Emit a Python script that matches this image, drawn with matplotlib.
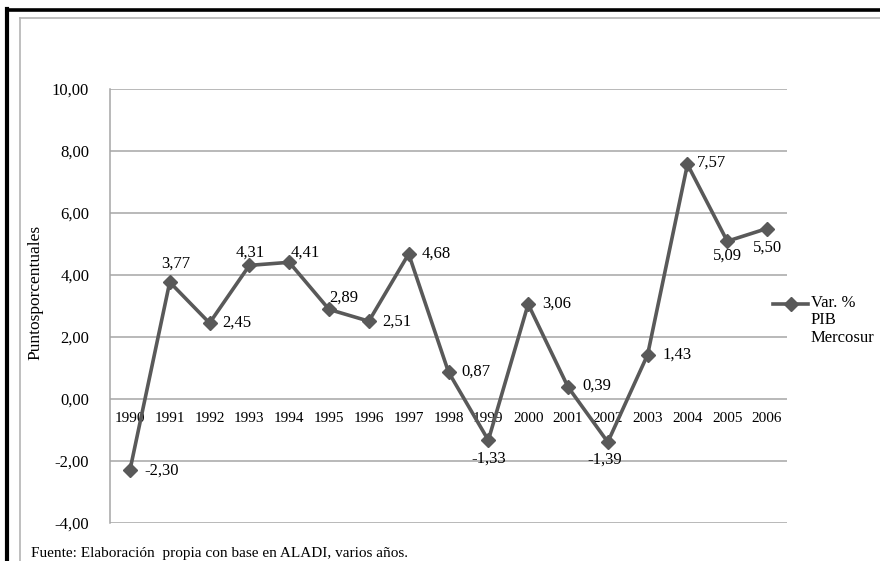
import matplotlib
matplotlib.use("Agg")
import matplotlib.pyplot as plt
from matplotlib.lines import Line2D

# data
years = ["1990", "1991", "1992", "1993", "1994", "1995", "1996", "1997", "1998",
         "1999", "2000", "2001", "2002", "2003", "2004", "2005", "2006"]
var_pib = [-2.30, 3.77, 2.45, 4.31, 4.41, 2.89, 2.51, 4.68, 0.87,
           -1.33, 3.06, 0.39, -1.39, 1.43, 7.57, 5.09, 5.50]
y_ticks = [-4, -2, 0, 2, 4, 6, 8, 10]
series_name = "Var. %\nPIB\nMercosur"
y_title = "Puntosporcentuales"
source_note = "Fuente: Elaboración  propia con base en ALADI, varios años."

# label placement (pixel offsets dx, dy, horizontal alignment)
label_pos = [(14, 0, "left"), (6, 18, "center"), (13, 0, "left"), (1, 13, "center"),
             (1, 10, "left"), (0, 12, "left"), (13, 0, "left"), (13, 0, "left"),
             (13, 0, "left"), (0, -18, "center"), (14, 0, "left"), (14, 1, "left"),
             (-3, -18, "center"), (15, 0, "left"), (9, 2, "left"), (0, -14, "center"),
             (0, -19, "center")]

plt.rcParams['font.family'] = ['Liberation Serif', 'DejaVu Serif']

W, H = 880, 561
fig = plt.figure(figsize=(8.8, 5.61), dpi=100)
fig.patch.set_facecolor("white")

# outer frames
def px_line(x0, y0, x1, y1, color, lw):
    fig.add_artist(Line2D([x0 / W, x1 / W], [1 - y0 / H, 1 - y1 / H],
                          color=color, lw=lw, transform=fig.transFigure))

px_line(6.5, 10, W, 10, "black", 2.6)
px_line(6.5, 9, 6.5, H, "black", 3.0)
px_line(19.5, 17.5, W, 17.5, "#b4b4b4", 1.2)
px_line(19.5, 17.5, 19.5, H, "#b4b4b4", 1.2)

left, right, top, bottom = 110, 787, 89, 523
ax = fig.add_axes([left / W, 1 - bottom / H, (right - left) / W, (bottom - top) / H])

line_col = "#595959"
grid_col = "#a6a6a6"
x = list(range(len(years)))
ax.plot(x, var_pib, color=line_col, lw=2.6, marker="D", markersize=7,
        markeredgecolor=line_col, markerfacecolor=line_col, zorder=3)

ax.set_xlim(-0.5, len(years) - 0.5)
ax.set_ylim(-4, 10)
ax.set_yticks(y_ticks)
ax.set_yticklabels([f"{v:.2f}".replace(".", ",") for v in y_ticks], fontsize=12)
ax.tick_params(axis="y", length=0, pad=15)
ax.set_xticks([])
for yv in y_ticks:
    ax.axhline(yv, color=grid_col, lw=1.1, zorder=1)
for s in ["top", "right", "bottom"]:
    ax.spines[s].set_visible(False)
ax.spines["left"].set_color(grid_col)
ax.spines["left"].set_linewidth(1.1)

k = 0.72  # px -> points at 100 dpi
for i, yr in enumerate(years):
    ax.annotate(yr, (i, 0), xytext=(0, -20 * k), textcoords="offset points",
                ha="center", va="center", fontsize=11, zorder=2)

for i, v in enumerate(var_pib):
    dx, dy, ha = label_pos[i]
    ax.annotate(f"{v:.2f}".replace(".", ","), (i, v), xytext=(dx * k, dy * k),
                textcoords="offset points", ha=ha, va="center", fontsize=12, zorder=4)

fig.text(35 / W, 1 - 292 / H, y_title, rotation=90, ha="center", va="center", fontsize=12.5)

# legend
fig.add_artist(Line2D([773 / W, 808 / W], [1 - 304 / H, 1 - 304 / H], color=line_col,
                      lw=2.6, transform=fig.transFigure))
fig.add_artist(Line2D([790.5 / W], [1 - 304 / H], color=line_col, marker="D",
                      markersize=7, transform=fig.transFigure))
fig.text(811 / W, 1 - 295 / H, series_name, ha="left", va="top", fontsize=12,
         linespacing=1.12)

fig.text(31 / W, 1 - 553 / H, source_note, ha="left", va="center", fontsize=11)

fig.savefig("out.png", dpi=100)
